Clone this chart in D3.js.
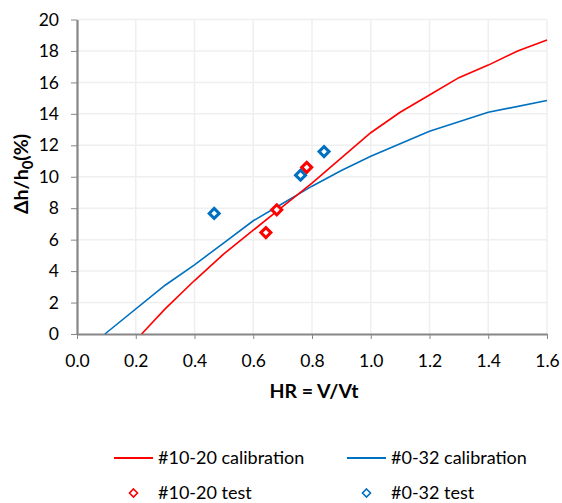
<!DOCTYPE html>
<html>
<head>
<meta charset="utf-8">
<script src="https://cdn.jsdelivr.net/npm/d3@7"></script>
<style>
  body { margin: 0; background: #fff; }
  svg { display: block; font-family: Lato, "Open Sans", sans-serif; }
</style>
</head>
<body>
<svg id="chart" width="562" height="503"></svg>
<script>
// Calibration curves (HR, Δh/h0 %)
const calib1020X = [0.22, 0.3, 0.4, 0.5, 0.6, 0.7, 0.8, 0.9, 1.0, 1.1, 1.2, 1.3, 1.4, 1.5, 1.6];
const calib1020Y = [0, 1.6, 3.4, 5.1, 6.6, 8.1, 9.6, 11.2, 12.8, 14.1, 15.2, 16.3, 17.1, 18.0, 18.7];
const calib032X = [0.095, 0.3, 0.4, 0.5, 0.6, 0.7, 0.8, 0.9, 1.0, 1.2, 1.4, 1.6];
const calib032Y = [0, 3.1, 4.4, 5.8, 7.2, 8.3, 9.4, 10.4, 11.3, 12.9, 14.1, 14.85];

// Test measurements
const test1020X = [0.643, 0.68, 0.782];
const test1020Y = [6.45, 7.9, 10.6];
const test032X = [0.467, 0.761, 0.841];
const test032Y = [7.67, 10.1, 11.6];

const xTicks = [0, 0.2, 0.4, 0.6, 0.8, 1.0, 1.2, 1.4, 1.6];
const yTicks = [0, 2, 4, 6, 8, 10, 12, 14, 16, 18, 20];

const seriesNames = ["#10-20 calibration", "#0-32 calibration", "#10-20 test", "#0-32 test"];
const RED = "#ff0000", BLUE = "#0070c0";

const svg = d3.select("#chart");
const x = d3.scaleLinear().domain([0, 1.6]).range([77, 547]);
const y = d3.scaleLinear().domain([0, 20]).range([334, 19.5]);

// gridlines
svg.append("g").selectAll("line.v").data(xTicks.slice(1)).join("line")
  .attr("x1", d => x(d)).attr("x2", d => x(d)).attr("y1", y(0)).attr("y2", y(20))
  .attr("stroke", "#efefef").attr("stroke-width", 1.5);
svg.append("g").selectAll("line.h").data(yTicks.slice(1)).join("line")
  .attr("x1", x(0)).attr("x2", x(1.6)).attr("y1", d => y(d)).attr("y2", d => y(d))
  .attr("stroke", "#efefef").attr("stroke-width", 1.5);

// axes
const xAxis = svg.append("g").attr("transform", `translate(0,${y(0)})`)
  .call(d3.axisBottom(x).tickValues(xTicks).tickFormat(d3.format(".1f")).tickSizeInner(5).tickSizeOuter(0).tickPadding(16));
const yAxis = svg.append("g").attr("transform", `translate(${x(0)},0)`)
  .call(d3.axisLeft(y).tickValues(yTicks).tickSizeInner(6).tickSizeOuter(0).tickPadding(12));
[xAxis, yAxis].forEach(g => {
  g.select(".domain").attr("stroke", "#868686").attr("stroke-width", 2.2);
  g.selectAll(".tick line").attr("stroke", "#868686").attr("stroke-width", 1);
  g.selectAll("text").attr("font-size", 17.5).attr("fill", "#000").attr("font-family", "Lato, sans-serif");
});

// axis titles
svg.append("text").attr("x", 314).attr("y", 398).attr("text-anchor", "middle")
  .attr("font-size", 19.5).attr("font-weight", "bold").text("HR = V/Vt");
const yt = svg.append("text").attr("transform", "translate(28,174) rotate(-90)")
  .attr("text-anchor", "middle").attr("font-size", 19.5).attr("font-weight", "bold");
yt.append("tspan").text("Δh/h");
yt.append("tspan").attr("dy", 5).attr("font-size", 15).text("0");
yt.append("tspan").attr("dy", -5).text("(%)");

// calibration lines
const line = d3.line().x(d => x(d[0])).y(d => y(d[1]));
const plot = svg.append("g");
plot.append("path").datum(d3.zip(calib032X, calib032Y)).attr("d", line)
  .attr("fill", "none").attr("stroke", BLUE).attr("stroke-width", 1.6);
plot.append("path").datum(d3.zip(calib1020X, calib1020Y)).attr("d", line)
  .attr("fill", "none").attr("stroke", RED).attr("stroke-width", 1.6);

// test markers (diamonds)
const diamond = s => `M0,${-s}L${s},0L0,${s}L${-s},0Z`;
function markers(xs, ys, color) {
  plot.append("g").selectAll("path").data(d3.zip(xs, ys)).join("path")
    .attr("transform", d => `translate(${x(d[0])},${y(d[1])})`)
    .attr("d", diamond(5))
    .attr("fill", "#fff").attr("stroke", color).attr("stroke-width", 3);
}
markers(test032X, test032Y, BLUE);
markers(test1020X, test1020Y, RED);

// legend
const legend = svg.append("g").attr("font-size", 18);
const items = [
  { name: seriesNames[0], color: RED, type: "line", lx: 114, ty: 458 },
  { name: seriesNames[1], color: BLUE, type: "line", lx: 347, ty: 458 },
  { name: seriesNames[2], color: RED, type: "marker", lx: 114, ty: 493 },
  { name: seriesNames[3], color: BLUE, type: "marker", lx: 347, ty: 493 }
];
items.forEach(it => {
  const g = legend.append("g");
  if (it.type === "line") {
    g.append("line").attr("x1", it.lx).attr("x2", it.lx + 39).attr("y1", it.ty).attr("y2", it.ty)
      .attr("stroke", it.color).attr("stroke-width", 2);
  } else {
    g.append("path").attr("transform", `translate(${it.lx + 19.5},${it.ty})`)
      .attr("d", diamond(4)).attr("fill", "#fff").attr("stroke", it.color).attr("stroke-width", 1.6);
  }
  g.append("text").attr("x", it.lx + 44).attr("y", it.ty).attr("dy", "0.35em").text(it.name);
});
</script>
</body>
</html>
